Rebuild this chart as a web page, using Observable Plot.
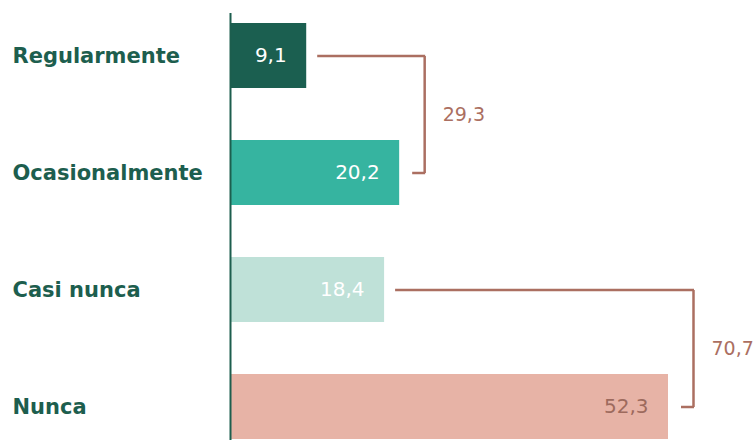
<!DOCTYPE html>
<html>
<head>
<meta charset="utf-8">
<script src="https://cdn.jsdelivr.net/npm/d3@7"></script>
<script src="https://cdn.jsdelivr.net/npm/@observablehq/plot@0.6"></script>
<style>
  html, body { margin: 0; padding: 0; background: #ffffff; }
  #chart svg { display: block; }
</style>
</head>
<body>
<div id="chart"></div>
<script>
const categories = ["Regularmente", "Ocasionalmente", "Casi nunca", "Nunca"];
const values = [9.1, 20.2, 18.4, 52.3];
const valueLabels = ["9,1", "20,2", "18,4", "52,3"];
const barColors = ["#1b5f50", "#36b4a0", "#bfe1d8", "#e7b3a6"];
const valueLabelColors = ["#ffffff", "#ffffff", "#ffffff", "#9d6a5d"];
const groupFrom = ["Regularmente", "Casi nunca"];
const groupTo = ["Ocasionalmente", "Nunca"];
const groupTotals = ["29,3", "70,7"];

const W = 755, H = 441;
const marginTop = 22, marginBottom = 1, paddingInner = 0.443;
const step = (H - marginTop - marginBottom) / (categories.length - paddingInner);

const bars = categories.map((c, i) => ({cat: c, value: values[i], label: valueLabels[i], color: barColors[i], labelColor: valueLabelColors[i]}));
const valueOf = Object.fromEntries(bars.map(d => [d.cat, d.value]));
const groups = groupFrom.map((f, i) => ({
  from: f, to: groupTo[i], total: groupTotals[i],
  vFrom: valueOf[f], vTo: valueOf[groupTo[i]],
  xb: Math.max(valueOf[f], valueOf[groupTo[i]])
}));

const green = "#1d5e4e";
const brown = "#ab6f61";
const font = "'DejaVu Sans', sans-serif";

const chart = Plot.plot({
  width: W,
  height: H,
  marginLeft: 230,
  marginRight: 87,
  marginTop,
  marginBottom,
  style: {fontFamily: font, background: "#ffffff"},
  x: {domain: [0, 52.3], axis: null},
  y: {domain: categories, paddingInner, paddingOuter: 0, label: null},
  marks: [
    Plot.barX(bars, {y: "cat", x: "value", fill: "color"}),
    Plot.ruleX([categories[0]], {x: () => 0, y1: () => categories[0], y2: () => categories[categories.length - 1], stroke: green, strokeWidth: 2, insetTop: -10, insetBottom: -1}),
    Plot.text(bars, {y: "cat", x: "value", text: "label", fill: "labelColor", textAnchor: "end", dx: -20, fontSize: 20}),
    Plot.axisY({tickSize: 0, tickPadding: 218, textAnchor: "start", fontSize: 21, fontWeight: "bold", fill: green, label: null}),
    // brackets
    Plot.ruleY(groups, {y: "from", x1: "vFrom", x2: "xb", insetLeft: 11, insetRight: -26, stroke: brown, strokeWidth: 2.5}),
    Plot.ruleY(groups, {y: "to", x1: "vTo", x2: "xb", insetLeft: 13, insetRight: -26, stroke: brown, strokeWidth: 2.5}),
    Plot.link(groups, {x1: "xb", x2: "xb", y1: "from", y2: "to", dx: 25, stroke: brown, strokeWidth: 2.5}),
    Plot.text(groups, {x: "xb", y: "from", text: "total", dx: 43, dy: step / 2, textAnchor: "start", fill: brown, fontSize: 19})
  ]
});
document.getElementById("chart").appendChild(chart);
</script>
</body>
</html>
